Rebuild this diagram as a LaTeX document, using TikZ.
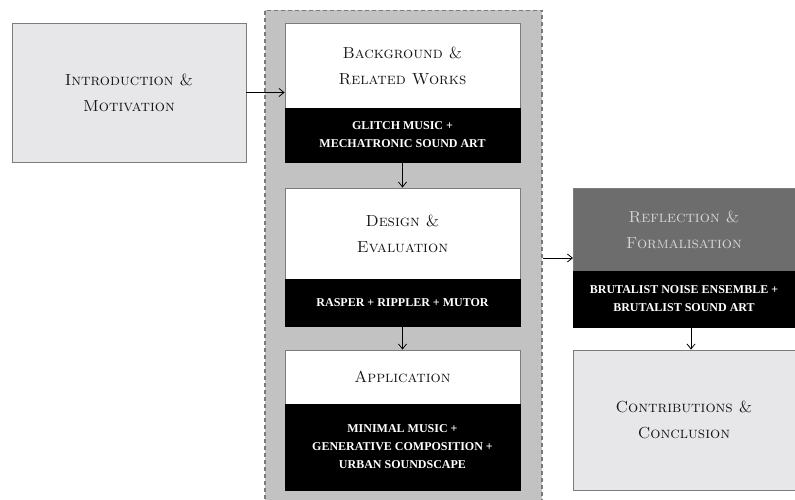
\documentclass[tikz,border=0pt]{standalone}
\usepackage{fontspec}
\newfontfamily\capsfont{Liberation Serif}
\usetikzlibrary{arrows.meta}
\definecolor{lightbox}{HTML}{E7E7E9}
\definecolor{contgray}{HTML}{C2C2C2}
\definecolor{dashgray}{HTML}{7A7A7A}
\definecolor{edgegray}{HTML}{7C7C7C}
\definecolor{refgray}{HTML}{6D6D6D}
\definecolor{reftext}{HTML}{D6D6D6}
\definecolor{titletext}{HTML}{151515}
\begin{document}
\begin{tikzpicture}[x=1pt,y=-1pt,
  box/.style={rectangle, inner sep=0pt, draw=edgegray, line width=0.8pt, align=center},
  titletxt/.style={font=\fontsize{16}{26}\selectfont\scshape, text=titletext},
  lightbox/.style={box, fill=lightbox, titletxt},
  whitebox/.style={box, fill=white, titletxt},
  blackbox/.style={box, fill=black, draw=black, text=white, font=\capsfont\fontsize{12}{18}\selectfont\bfseries},
  conn/.style={line width=0.8pt, -{Straight Barb[length=5pt,width=8pt]}}
]
\useasboundingbox (0,0) rectangle (795,500);
% container
\node[rectangle, fill=contgray, draw=dashgray, dash pattern=on 4pt off 3pt, line width=1.5pt, minimum width=277pt, minimum height=495pt, inner sep=0pt] (cont) at (403.5,258) {};
% intro
\node[lightbox, minimum width=234pt, minimum height=139pt] (intro) at (129,92.5) {Introduction \&\\Motivation};
% background
\node[whitebox, minimum width=235pt, minimum height=85pt] (bgT) at (402.5,65.5) {Background \&\\Related Works};
\node[blackbox, minimum width=235pt, minimum height=54pt] (bgB) at (402.5,135) {GLITCH MUSIC +\\MECHATRONIC SOUND ART};
% design
\node[whitebox, minimum width=235pt, minimum height=91pt] (dsT) at (402.5,233.5) {Design \&\\Evaluation};
\node[blackbox, minimum width=235pt, minimum height=47pt] (dsB) at (402.5,302.5) {RASPER + RIPPLER + MUTOR};
% application
\node[whitebox, minimum width=235pt, minimum height=54pt] (apT) at (402.5,377) {Application};
\node[blackbox, minimum width=235pt, minimum height=86pt] (apB) at (402.5,447) {MINIMAL MUSIC +\\GENERATIVE COMPOSITION +\\URBAN SOUNDSCAPE};
% reflection
\node[box, fill=refgray, draw=edgegray, titletxt, text=reftext, minimum width=222pt, minimum height=83pt] (rfT) at (684,229.5) {Reflection \&\\Formalisation};
\node[blackbox, minimum width=222pt, minimum height=56pt] (rfB) at (684,299) {BRUTALIST NOISE ENSEMBLE +\\BRUTALIST SOUND ART};
% contributions
\node[lightbox, minimum width=222pt, minimum height=140pt] (contr) at (684,420) {Contributions \&\\Conclusion};
% connectors
\coordinate (rfin) at (573,258);
\draw[conn] (intro.east) -- (intro.east -| bgT.west);
\draw[conn] (bgB.south) -- (dsT.north);
\draw[conn] (dsB.south) -- (apT.north);
\draw[conn] (rfin -| cont.east) -- (rfin);
\draw[conn] (rfB.south -| 691,0) -- (contr.north -| 691,0);
\end{tikzpicture}
\end{document}
